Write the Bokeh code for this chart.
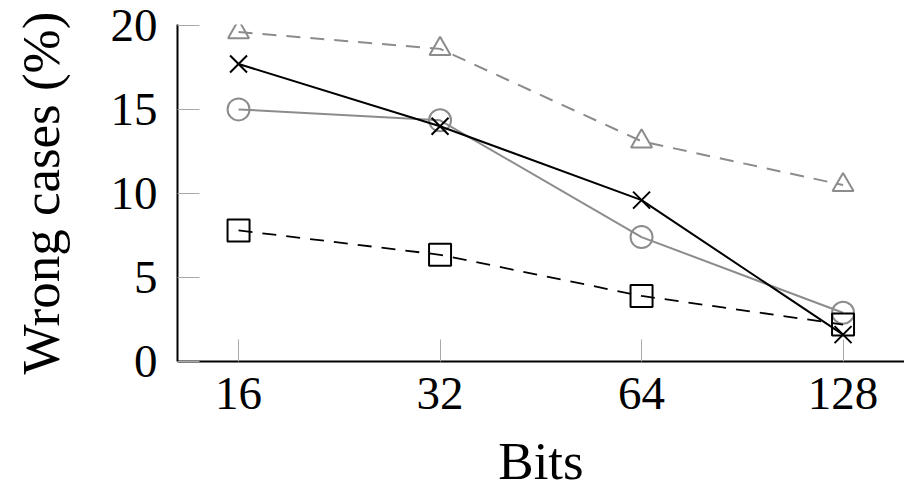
from bokeh.plotting import figure
from bokeh.models import Range1d, FixedTicker, ColumnDataSource
from bokeh.embed import file_html
from bokeh.resources import INLINE

bits = ["16", "32", "64", "128"]
tri_vals = [19.6, 18.6, 13.1, 10.5]
x_vals = [17.7, 14.0, 9.6, 1.6]
circ_vals = [15.0, 14.35, 7.4, 2.9]
sq_vals = [7.8, 6.35, 3.9, 2.2]
y_ticks = [0, 5, 10, 15, 20]

pos = list(range(len(bits)))
FONT = "Liberation Serif"
GRAY = "#8c8c8c"

p = figure(width=904, height=494, output_backend="svg", toolbar_location=None,
           x_range=Range1d(-0.303, 3.305), y_range=Range1d(0, 20.05),
           min_border_left=177, min_border_right=0, min_border_top=24, min_border_bottom=133)
p.outline_line_color = None
p.grid.visible = False
p.background_fill_color = "white"
p.border_fill_color = "white"

src = ColumnDataSource(dict(x=pos, tri=tri_vals, xx=x_vals, circ=circ_vals, sq=sq_vals))

p.line("x", "tri", source=src, line_color=GRAY, line_width=2, line_dash="14 10")
p.scatter("x", "tri", source=src, marker="triangle", size=21, fill_color=None,
          line_color=GRAY, line_width=2)

p.line("x", "circ", source=src, line_color=GRAY, line_width=2)
p.scatter("x", "circ", source=src, marker="circle", size=22, fill_color=None,
          line_color=GRAY, line_width=2)

p.line("x", "sq", source=src, line_color="black", line_width=1.8, line_dash="14 10")
p.scatter("x", "sq", source=src, marker="square", size=22, fill_color=None,
          line_color="black", line_width=2)

p.line("x", "xx", source=src, line_color="black", line_width=2)
p.scatter("x", "xx", source=src, marker="x", size=24, line_color="black", line_width=2)

for ax in (p.xaxis[0], p.yaxis[0]):
    ax.axis_line_color = "black"
    ax.axis_line_width = 2
    ax.major_tick_in = 22
    ax.major_tick_out = 0
    ax.major_tick_line_color = "#a8a8a8"
    ax.major_tick_line_width = 1
    ax.minor_tick_line_color = None
    ax.major_label_text_font = FONT
    ax.major_label_text_font_size = "47px"
    ax.major_label_text_color = "black"
    ax.axis_label_text_font = FONT
    ax.axis_label_text_font_size = "53px"
    ax.axis_label_text_font_style = "normal"
    ax.axis_label_text_color = "black"

p.xaxis.ticker = FixedTicker(ticks=pos)
p.xaxis.major_label_overrides = {i: b for i, b in zip(pos, bits)}
p.xaxis.axis_label = "Bits"
p.xaxis.major_label_standoff = 16
p.xaxis.axis_label_standoff = 20

p.yaxis.ticker = FixedTicker(ticks=y_ticks)
p.yaxis.axis_label = "Wrong cases (%)"
p.yaxis.major_label_standoff = 20
p.yaxis.axis_label_standoff = 38

open("out.html", "w").write(file_html(p, INLINE))
